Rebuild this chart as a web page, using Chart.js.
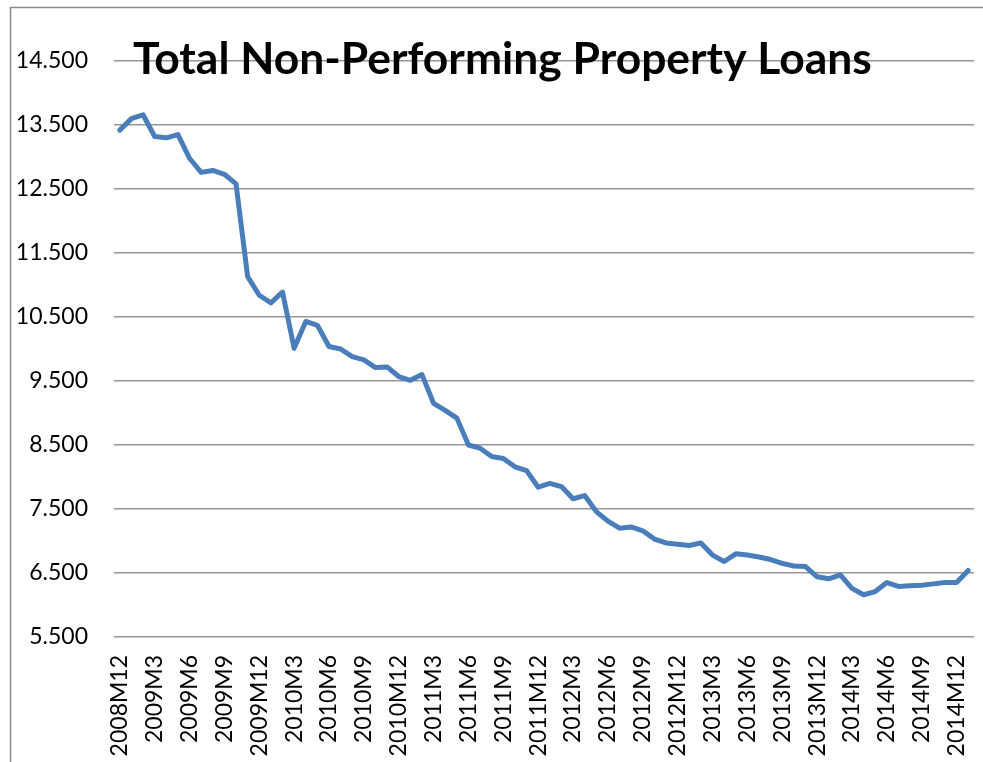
<!DOCTYPE html>
<html>
<head>
<meta charset="utf-8">
<title>Total Non-Performing Property Loans</title>
<script src="https://cdn.jsdelivr.net/npm/chart.js"></script>
<style>
  body { margin: 0; background: #fff; overflow: hidden; }
  #grafico { position: absolute; left: 0; top: 0; }
</style>
</head>
<body>
<canvas id="grafico" width="983" height="762"></canvas>
<script>
const titulo = "Total Non-Performing Property Loans";

const meses = [
    "2008M12",
    "2009M1", "2009M2", "2009M3", "2009M4", "2009M5", "2009M6", "2009M7", "2009M8", "2009M9", "2009M10", "2009M11", "2009M12",
    "2010M1", "2010M2", "2010M3", "2010M4", "2010M5", "2010M6", "2010M7", "2010M8", "2010M9", "2010M10", "2010M11", "2010M12",
    "2011M1", "2011M2", "2011M3", "2011M4", "2011M5", "2011M6", "2011M7", "2011M8", "2011M9", "2011M10", "2011M11", "2011M12",
    "2012M1", "2012M2", "2012M3", "2012M4", "2012M5", "2012M6", "2012M7", "2012M8", "2012M9", "2012M10", "2012M11", "2012M12",
    "2013M1", "2013M2", "2013M3", "2013M4", "2013M5", "2013M6", "2013M7", "2013M8", "2013M9", "2013M10", "2013M11", "2013M12",
    "2014M1", "2014M2", "2014M3", "2014M4", "2014M5", "2014M6", "2014M7", "2014M8", "2014M9", "2014M10", "2014M11", "2014M12",
    "2015M1"
];

const prestamos = [
    13420,
    13600, 13660, 13320, 13300, 13350, 12980, 12760, 12790, 12730, 12580, 11130, 10840,
    10720, 10890, 10010, 10430, 10370, 10040, 10000, 9880, 9830, 9710, 9720, 9570,
    9510, 9600, 9150, 9040, 8920, 8500, 8450, 8320, 8290, 8160, 8100, 7840,
    7900, 7850, 7660, 7710, 7460, 7310, 7200, 7220, 7160, 7030, 6970, 6950,
    6930, 6970, 6780, 6680, 6800, 6780, 6750, 6710, 6650, 6610, 6600, 6440,
    6410, 6470, 6260, 6160, 6210, 6350, 6290, 6300, 6310, 6330, 6350, 6350,
    6540
];

const ejeY = { min: 5500, max: 14500, paso: 1000 };

// formato con punto de miles: 14500 -> "14.500"
function formatoMiles(v) {
    return String(v).replace(/\B(?=(\d{3})+(?!\d))/g, ".");
}

// marco gris del area del grafico (solo izquierda y arriba quedan visibles)
const marcoPlugin = {
    id: "marco",
    beforeDraw(chart) {
        const ctx = chart.ctx;
        ctx.save();
        ctx.strokeStyle = "#8a8a8a";
        ctx.lineWidth = 1.5;
        ctx.beginPath();
        ctx.moveTo(10.5, chart.height);
        ctx.lineTo(10.5, 7.5);
        ctx.lineTo(chart.width, 7.5);
        ctx.stroke();
        ctx.restore();
    }
};

// titulo dibujado encima del area del grafico (cruza la primera linea)
const tituloPlugin = {
    id: "tituloEncima",
    afterDraw(chart) {
        const ctx = chart.ctx;
        ctx.save();
        let size = 48;
        ctx.font = "bold " + size + "px Lato";
        const ancho = ctx.measureText(titulo).width;
        size = size * 739 / ancho;
        ctx.font = "bold " + size.toFixed(1) + "px Lato";
        ctx.fillStyle = "#000";
        ctx.textBaseline = "alphabetic";
        ctx.fillText(titulo, 133, 74);
        ctx.restore();
    }
};

const ctx = document.getElementById("grafico").getContext("2d");
new Chart(ctx, {
    type: "line",
    data: {
        labels: meses,
        datasets: [{
            label: titulo,
            data: prestamos,
            borderColor: "#4a7ebb",
            borderWidth: 5,
            pointRadius: 0,
            tension: 0,
            fill: false,
            borderJoinStyle: "round",
            borderCapStyle: "round"
        }]
    },
    options: {
        responsive: false,
        animation: false,
        layout: { padding: { left: 10, right: 9, top: 61, bottom: 0 } },
        plugins: {
            legend: { display: false },
            title: { display: false },
            tooltip: { enabled: false }
        },
        scales: {
            x: {
                offset: true,
                grid: { display: false, drawTicks: false },
                border: { display: false },
                ticks: {
                    autoSkip: false,
                    maxRotation: 90,
                    minRotation: 90,
                    padding: 18,
                    color: "#000",
                    font: { family: "Lato", size: 23 },
                    callback: function (val, i) {
                        return i % 3 === 0 ? meses[i] : "";
                    }
                },
                afterFit: function (scale) {
                    scale.height = 125;
                    scale.paddingLeft = 0;
                    scale.paddingRight = 0;
                }
            },
            y: {
                min: ejeY.min,
                max: ejeY.max,
                grid: { color: "#969696", lineWidth: 1.5, drawTicks: false },
                border: { display: false },
                ticks: {
                    stepSize: ejeY.paso,
                    padding: 26,
                    color: "#000",
                    font: { family: "Lato", size: 23 },
                    callback: function (v) { return formatoMiles(v); }
                },
                afterFit: function (scale) {
                    scale.width = 104;
                    scale.paddingTop = 0;
                    scale.paddingBottom = 0;
                }
            }
        }
    },
    plugins: [marcoPlugin, tituloPlugin]
});
</script>
</body>
</html>
